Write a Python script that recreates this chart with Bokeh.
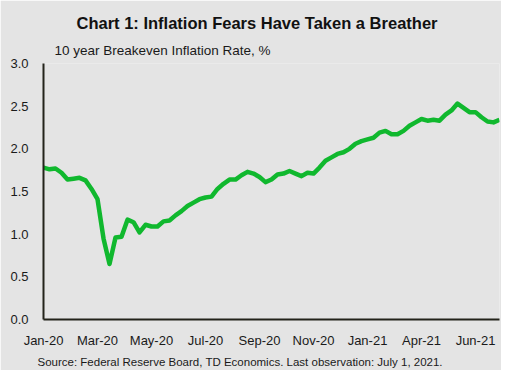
from bokeh.plotting import figure
from bokeh.models import Range1d, FixedTicker, Title, CustomJSTickFormatter
from bokeh.embed import file_html
from bokeh.resources import INLINE

# 10 year breakeven inflation rate, % (approx. weekly observations, Jan-2020 to Jul-2021)
values = [1.78, 1.76, 1.77, 1.72, 1.64, 1.65, 1.66, 1.63, 1.53, 1.41,
          0.95, 0.65, 0.96, 0.97, 1.17, 1.14, 1.02, 1.11, 1.09, 1.09,
          1.15, 1.16, 1.22, 1.27, 1.33, 1.37, 1.41, 1.43, 1.44, 1.53,
          1.59, 1.64, 1.64, 1.69, 1.73, 1.71, 1.67, 1.61, 1.64, 1.70,
          1.71, 1.74, 1.71, 1.68, 1.72, 1.71, 1.78, 1.86, 1.90, 1.94,
          1.96, 2.00, 2.06, 2.09, 2.11, 2.13, 2.19, 2.21, 2.17, 2.17,
          2.21, 2.27, 2.31, 2.35, 2.33, 2.34, 2.33, 2.40, 2.45, 2.53,
          2.48, 2.43, 2.43, 2.37, 2.32, 2.31, 2.34]
idx = list(range(len(values)))
tick_positions = [0, 9, 18, 27, 36, 45, 54, 63, 72]
tick_labels = ["Jan-20", "Mar-20", "May-20", "Jul-20", "Sep-20", "Nov-20", "Jan-21", "Apr-21", "Jun-21"]
y_ticks = [0.0, 0.5, 1.0, 1.5, 2.0, 2.5, 3.0]

BG = "#e4e4e4"
AX = "#23231a"
FONT = "Liberation Sans"

p = figure(width=501, height=370, output_backend="svg", toolbar_location=None,
           x_range=Range1d(0, len(values) - 1), y_range=Range1d(0, 3),
           min_border_left=43, min_border_right=2, min_border_top=63, min_border_bottom=48)
p.background_fill_color = BG
p.border_fill_color = BG
p.outline_line_color = None
p.xgrid.grid_line_color = None
p.ygrid.grid_line_color = None

p.line(idx, values, line_color="#10b82e", line_width=4.5, line_join="round")

p.xaxis.ticker = FixedTicker(ticks=tick_positions)
p.xaxis.major_label_overrides = {t: l for t, l in zip(tick_positions, tick_labels)}
p.yaxis.ticker = FixedTicker(ticks=y_ticks)
p.yaxis.formatter = CustomJSTickFormatter(code="return tick.toFixed(1);")
for ax in (p.xaxis, p.yaxis):
    ax.axis_line_color = AX
    ax.axis_line_width = 2
    ax.major_tick_line_color = None
    ax.minor_tick_line_color = None
    ax.major_label_text_font = FONT
    ax.major_label_text_font_size = "13px"
    ax.major_label_text_color = "#1a1a1a"
p.xaxis.major_label_standoff = 7
p.yaxis.major_label_standoff = 9

ylab = Title(text="10 year Breakeven Inflation Rate, %", align="left", offset=11,
             text_font=FONT, text_font_size="13.5px", text_font_style="normal",
             text_color="#1a1a1a", standoff=12)
p.add_layout(ylab, "above")
main = Title(text="Chart 1: Inflation Fears Have Taken a Breather", align="left", offset=33,
             text_font=FONT, text_font_size="16.5px", text_font_style="bold",
             text_color="#111111", standoff=6)
p.add_layout(main, "above")
src = Title(text="Source:  Federal  Reserve  Board,  TD  Economics.   Last  observation:  July  1,  2021.",
            align="left", offset=-6, text_font=FONT, text_font_size="11.5px",
            text_font_style="normal", text_color="#1a1a1a", standoff=6)
p.add_layout(src, "below")

open("out.html", "w").write(file_html(p, INLINE))
